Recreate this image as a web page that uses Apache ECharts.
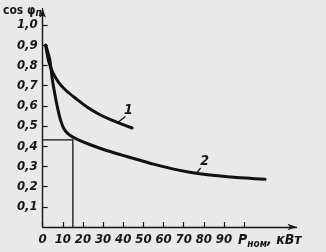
<!DOCTYPE html>
<html><head><meta charset="utf-8">
<script src="https://cdn.jsdelivr.net/npm/echarts@6/dist/echarts.min.js"></script>
<style>html,body{margin:0;padding:0;background:#e9e9e9}#c{width:326px;height:252px}</style>
</head><body><div id="c"></div>
<script>
// P_nom, kW  vs  cos phi
const curve1 = [[1.5,0.90],[3,0.82],[5,0.765],[8,0.715],[12,0.672],[17,0.632],[22,0.594],[28,0.558],[34,0.53],[40,0.507],[44.4,0.49]];
const curve2 = [[1.5,0.90],[3.5,0.83],[4.8,0.73],[6.2,0.65],[7.5,0.585],[9,0.525],[10.5,0.488],[12.5,0.462],[15,0.445],[18,0.43],[24,0.406],[31,0.381],[39,0.357],[47,0.334],[55,0.311],[64,0.289],[73,0.271],[83,0.257],[95,0.246],[110.4,0.236]];
const dropLine = [[0,0.431],[15,0.431],[15,0]];
const leader1 = [[37.6,0.52],[41.1,0.547]];
const leader2 = [[76.4,0.267],[78.4,0.292]];
const curveNames = ['1','2'];
const yTicks = [0.1,0.2,0.3,0.4,0.5,0.6,0.7,0.8,0.9,1.0];
const xLabels = [0,10,20,30,40,50,60,70,80,90];
const xTickMarks = [0,10,20,30,40,50,60,70,80,90,100];

const FONT = "'Liberation Sans Narrow','DejaVu Sans Condensed',sans-serif";
const ink = '#161616';
const labelStyle = {color: ink, fontFamily: FONT, fontStyle: 'italic', fontWeight: 'bold', fontSize: 14};
function leaderSeries(pts, name, offset) {
  return {
    type: 'line', silent: true,
    data: pts.map((p, i) => i === 1 ? {value: p, label: {show: true, formatter: name}} : p),
    symbol: 'circle', symbolSize: 1, showSymbol: true,
    itemStyle: {color: 'rgba(0,0,0,0)'},
    lineStyle: {color: '#111', width: 1.3},
    label: Object.assign({show: false, position: 'top', distance: 1, offset: offset}, labelStyle)
  };
}
const chart = echarts.init(document.getElementById('c'));
chart.setOption({
  backgroundColor: '#e9e9e9',
  animation: false,
  grid: {left: 42, right: 29.5, top: 8.8, bottom: 25},
  xAxis: {
    type: 'value', min: 0, max: 126,
    splitLine: {show: false},
    axisLine: {lineStyle: {color: ink, width: 1.4}, symbol: ['none','arrow'], symbolSize: [5, 9]},
    axisTick: {inside: true, length: 5, lineStyle: {color: ink, width: 1.2}, customValues: xTickMarks},
    axisLabel: {customValues: xLabels, margin: 6, color: ink, fontFamily: FONT, fontStyle: 'italic', fontWeight: 'bold', fontSize: 13},
    name: 'P{s|ном}, кВт', nameLocation: 'end', nameGap: -60,
    nameTextStyle: {color: ink, fontFamily: FONT, fontStyle: 'italic', fontWeight: 'bold', fontSize: 14, align: 'left', verticalAlign: 'top', padding: [5,0,0,0],
      rich: {s: {fontFamily: FONT, fontStyle: 'italic', fontWeight: 'bold', fontSize: 10, color: ink, padding: [7,0,0,0]}}}
  },
  yAxis: {
    type: 'value', min: 0, max: 1.08,
    splitLine: {show: false},
    axisLine: {lineStyle: {color: ink, width: 1.4}, symbol: ['none','arrow'], symbolSize: [5, 9]},
    axisTick: {inside: true, length: 5, lineStyle: {color: ink, width: 1.2}, customValues: yTicks},
    axisLabel: {customValues: yTicks, margin: 5, color: ink, fontFamily: FONT, fontStyle: 'italic', fontWeight: 'bold', fontSize: 13,
      formatter: v => v.toFixed(1).replace('.', ',')},
    name: 'cos φ{s|п}', nameLocation: 'end', nameGap: -8,
    nameTextStyle: {color: ink, fontFamily: FONT, fontWeight: 'bold', fontSize: 12, align: 'right', verticalAlign: 'top', padding: [0,1,0,0],
      rich: {s: {fontFamily: FONT, fontStyle: 'italic', fontWeight: 'bold', fontSize: 10, color: ink, padding: [5,0,0,0]}}}
  },
  series: [
    {type: 'line', data: curve1, smooth: 0.3, showSymbol: false, lineStyle: {color: '#111', width: 3, cap: 'round', join: 'round'}},
    {type: 'line', data: curve2, smooth: 0.3, showSymbol: false, lineStyle: {color: '#111', width: 3, cap: 'round', join: 'round'}},
    {type: 'line', data: dropLine, showSymbol: false, lineStyle: {color: '#111', width: 1.3}},
    leaderSeries(leader1, curveNames[0], [3, 2]),
    leaderSeries(leader2, curveNames[1], [4, 2])
  ]
});
</script></body></html>
